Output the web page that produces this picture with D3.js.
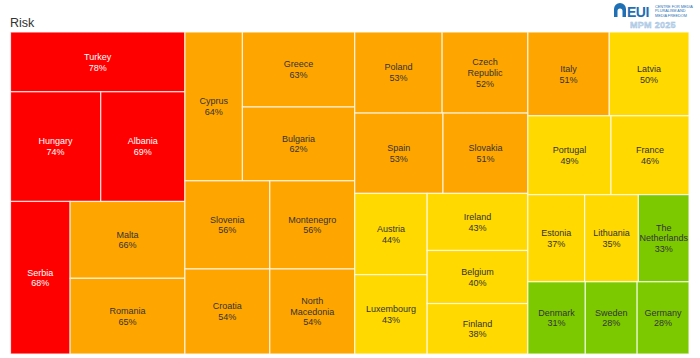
<!DOCTYPE html>
<html><head><meta charset="utf-8">
<script src="https://cdn.jsdelivr.net/npm/d3@7"></script>
<style>body{margin:0;background:#fff;font-family:"Liberation Sans",Arial,sans-serif;}</style>
</head><body><svg id="c" width="700" height="358"></svg>
<script>
const countries = ["Turkey","Hungary","Albania","Serbia","Malta","Romania",
  "Cyprus","Greece","Bulgaria","Slovenia","Montenegro","Croatia","North Macedonia",
  "Poland","Czech Republic","Spain","Slovakia","Austria","Luxembourg","Ireland","Belgium","Finland",
  "Italy","Latvia","Portugal","France","Estonia","Lithuania","The Netherlands","Denmark","Sweden","Germany"];
const values = [78,74,69,68,66,65, 64,63,62,56,56,54,54, 53,52,53,51,44,43,43,40,38, 51,50,49,46,37,35,33,31,28,28];
// nesting of the tiles (h = side by side, v = stacked)
const nesting = ["h",
  ["v","Turkey",["h","Hungary","Albania"],["h","Serbia",["v","Malta","Romania"]]],
  ["v",["h","Cyprus",["v","Greece","Bulgaria"]],["v",["h","Slovenia","Montenegro"],["h","Croatia","North Macedonia"]]],
  ["v",["v",["h","Poland","Czech Republic"],["h","Spain","Slovakia"]],["h",["v","Austria","Luxembourg"],["v","Ireland","Belgium","Finland"]]],
  ["v",["v",["h","Italy","Latvia"],["h","Portugal","France"]],["v",["h","Estonia","Lithuania","The Netherlands"],["h","Denmark","Sweden","Germany"]]]
];
const wrapped = ["Czech Republic","North Macedonia","The Netherlands"];
const thresholds = [34,51,67];
const riskColors = ["#7dc900","#ffd900","#ffa500","#ff0000"];
const labelColors = ["#333","#333","#333","#fff"];

const valueOf = new Map(countries.map((c,i)=>[c,values[i]]));
function build(n){
  if (typeof n === "string") return {name:n, value:valueOf.get(n)};
  return {dir:n[0], children:n.slice(1).map(build)};
}
const root = d3.hierarchy(build(nesting)).sum(d=>d.value||0);
d3.treemap()
  .size([678.5,322])
  .tile((node,x0,y0,x1,y1)=> (node.data.dir==="h"? d3.treemapDice : d3.treemapSlice)(node,x0,y0,x1,y1))
  (root);

const color = d3.scaleThreshold().domain(thresholds).range(riskColors);
const tcolor = d3.scaleThreshold().domain(thresholds).range(labelColors);

const svg = d3.select("#c");
svg.append("text").attr("x",10).attr("y",27).attr("font-size",12.5).attr("fill","#333").text("Risk");

const g = svg.append("g").attr("transform","translate(10.5,32)");
const leaves = g.selectAll("g.leaf").data(root.leaves()).join("g").attr("class","leaf");
leaves.append("rect")
  .attr("x",d=>d.x0).attr("y",d=>d.y0)
  .attr("width",d=>d.x1-d.x0).attr("height",d=>d.y1-d.y0)
  .attr("fill",d=>color(d.data.value))
  .attr("stroke","rgba(255,255,255,0.75)").attr("stroke-width",1.2);

leaves.each(function(d){
  const w = d.x1-d.x0, h = d.y1-d.y0;
  const name = d.data.name;
  const ls = (wrapped.includes(name) ? name.split(" ") : [name]).concat([d.data.value+"%"]);
  const cx = d.x0 + w/2, cy = d.y0 + h/2;
  const lh = 10.8;
  const t = d3.select(this).append("text")
    .attr("text-anchor","middle").attr("font-size",9)
    .attr("fill",tcolor(d.data.value));
  ls.forEach((s,i)=>{
    t.append("tspan").attr("x",cx)
     .attr("y", cy - (ls.length-1)*lh/2 + i*lh + 3.2).text(s);
  });
});

// logo
const logo = svg.append("g").attr("transform","translate(614,3)");
logo.append("path").attr("d","M0,14 L0,6 A6,6 0 0 1 12,6 L12,14 L8.5,14 L8.5,8 A2.5,2.5 0 0 0 3.5,8 L3.5,14 Z").attr("fill","#1f6fb5");
logo.append("text").attr("x",13).attr("y",14).attr("font-size",14).attr("font-weight","bold").attr("fill","#1f6fb5").attr("letter-spacing",-0.5).text("EUI");
["CENTRE FOR MEDIA","PLURALISM AND","MEDIA FREEDOM"].forEach((s,i)=>{
  logo.append("text").attr("x",41).attr("y",5+i*4.4).attr("font-size",3.8).attr("fill","#1f6fb5").text(s);
});
logo.append("text").attr("x",16).attr("y",25).attr("font-size",9).attr("font-weight","bold")
  .attr("fill","#c9dcef").attr("stroke","#9bbde0").attr("stroke-width",0.4).attr("letter-spacing",0.3).text("MPM 2025");
</script></body></html>
